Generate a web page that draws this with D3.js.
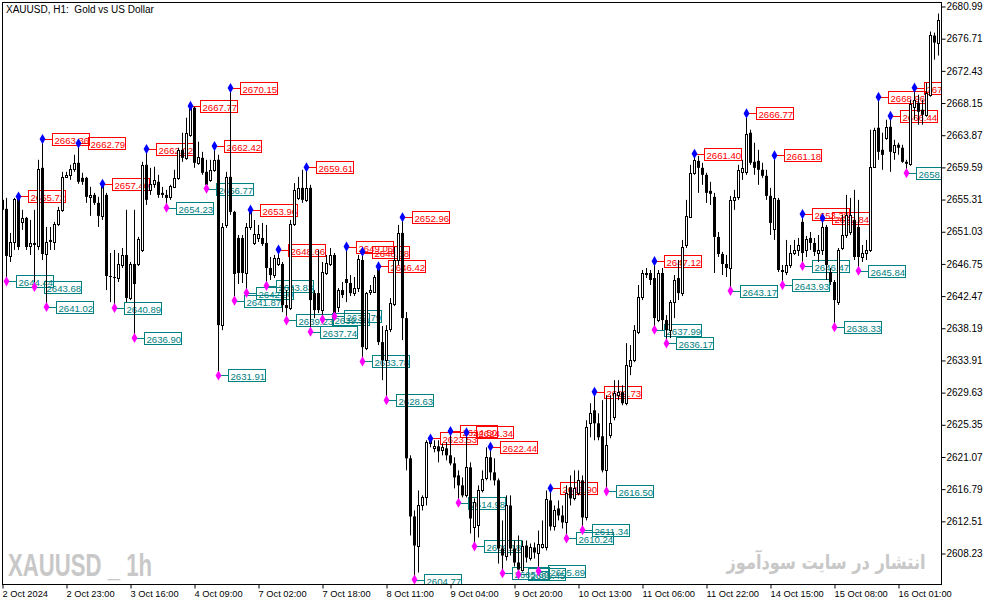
<!DOCTYPE html>
<html>
<head>
<meta charset="utf-8">
<script src="https://cdn.jsdelivr.net/npm/d3@7"></script>
<style>
  body { margin: 0; background: #fff; }
  svg { display: block; }
  text { font-family: "Liberation Sans", Arial, sans-serif; }
</style>
</head>
<body>
<script>
// XAUUSD H1 bars (index 0 = 2 Oct 07:00)
const opens = [
  2655.27,2654.07,2647.81,2649.67,2655.40,2652.34,2652.87,2649.14,2649.54,2649.14,
  2659.53,2648.07,2649.94,2649.67,2652.07,2653.94,2658.33,2658.60,2659.40,2660.20,
  2658.20,2658.20,2655.67,2655.93,2654.87,2653.14,2655.93,2645.14,2645.01,2644.87,
  2646.61,2647.94,2642.21,2646.74,2646.74,2648.61,2659.93,2656.60,2657.40,2657.67,
  2656.20,2655.93,2655.67,2657.00,2658.20,2661.93,2660.86,2663.93,2667.53,2660.20,
  2660.86,2659.00,2657.93,2659.27,2660.60,2638.61,2651.94,2658.33,2653.67,2650.20,
  2650.20,2645.54,2651.67,2649.54,2650.20,2650.20,2649.54,2646.21,2645.27,2646.74,
  2646.74,2641.28,2640.88,2652.07,2655.53,2656.87,2655.27,2656.87,2642.87,2642.87,
  2640.61,2645.54,2646.74,2647.94,2641.01,2643.27,2644.74,2644.21,2642.87,2643.54,
  2647.27,2635.55,2643.01,2643.01,2646.34,2636.35,2633.95,2638.08,2641.41,2647.27,
  2650.87,2639.54,2620.89,2613.16,2609.29,2614.62,2615.69,2622.89,2622.22,2622.49,
  2621.95,2622.22,2621.29,2620.22,2618.62,2617.29,2615.96,2619.69,2611.69,2611.96,
  2616.62,2618.22,2621.02,2619.02,2617.96,2608.89,2607.96,2614.62,2608.89,2607.03,
  2606.09,2609.29,2607.69,2609.03,2608.36,2609.16,2609.16,2615.29,2611.83,2614.22,
  2613.29,2612.36,2617.02,2615.56,2616.22,2617.96,2613.02,2625.55,2627.28,2625.55,
  2623.82,2619.29,2623.95,2626.35,2629.28,2629.68,2628.22,2633.15,2633.95,2637.68,
  2642.34,2645.54,2645.54,2644.87,2639.28,2645.54,2639.28,2637.94,2641.67,2644.87,
  2642.87,2649.27,2653.00,2658.87,2660.46,2659.53,2658.60,2656.47,2655.67,2650.34,
  2648.07,2646.74,2646.21,2655.27,2655.67,2659.00,2659.00,2664.20,2660.33,2660.46,
  2659.27,2658.47,2655.80,2651.40,2655.27,2645.94,2645.67,2646.61,2648.20,2648.61,
  2652.34,2648.61,2650.20,2649.54,2648.20,2648.61,2651.67,2645.67,2644.34,2641.67,
  2648.87,2650.60,2651.00,2652.60,2651.67,2647.67,2648.20,2648.61,2659.67,2664.86,
  2661.93,2663.53,2664.99,2661.66,2662.60,2662.20,2660.33,2660.07,2667.66,2668.19,
  2667.26,2666.59,2669.26,2677.12,2676.19
];
const highs = [
  2655.93,2655.53,2650.87,2655.53,2655.72,2653.94,2653.00,2652.60,2653.94,2660.60,
  2663.36,2651.67,2651.67,2652.34,2654.34,2659.00,2659.00,2659.93,2661.26,2662.79,
  2658.87,2658.33,2657.00,2656.20,2655.67,2657.40,2656.20,2648.20,2648.61,2648.20,
  2648.87,2653.94,2647.01,2653.94,2650.34,2660.33,2662.02,2659.53,2659.67,2658.60,
  2657.00,2656.60,2657.27,2659.27,2662.20,2664.20,2666.20,2667.77,2667.66,2663.00,
  2661.66,2660.60,2660.60,2662.42,2661.26,2652.20,2659.00,2670.15,2653.80,2650.60,
  2650.60,2652.20,2653.96,2652.60,2651.94,2652.20,2651.94,2647.67,2647.94,2648.66,
  2647.01,2643.27,2652.60,2657.50,2658.33,2659.27,2659.61,2657.27,2643.27,2648.61,
  2647.01,2647.94,2648.87,2648.20,2643.54,2644.34,2649.06,2645.27,2645.01,2647.94,
  2648.38,2643.01,2643.94,2645.27,2646.42,2638.48,2638.61,2642.21,2649.00,2651.94,
  2652.96,2640.34,2621.29,2613.96,2616.62,2615.96,2623.29,2623.53,2623.29,2623.29,
  2622.89,2623.02,2624.50,2621.02,2619.29,2618.35,2624.34,2620.35,2615.56,2617.29,
  2619.29,2622.35,2622.44,2620.89,2618.22,2612.63,2615.96,2615.96,2609.96,2610.63,
  2609.96,2609.96,2609.56,2609.69,2611.29,2612.63,2616.62,2616.90,2614.62,2615.29,
  2614.62,2617.29,2618.62,2619.29,2619.29,2618.62,2625.95,2628.22,2629.73,2626.88,
  2628.62,2629.28,2629.28,2631.28,2631.28,2630.61,2636.21,2635.95,2638.61,2643.94,
  2645.94,2646.21,2645.94,2647.12,2645.94,2646.21,2639.94,2641.94,2645.27,2647.27,
  2649.94,2655.27,2659.93,2661.40,2661.13,2660.20,2658.87,2657.67,2656.20,2651.00,
  2648.34,2647.94,2655.80,2656.60,2659.93,2660.60,2666.77,2664.60,2662.86,2661.93,
  2660.20,2659.27,2656.87,2661.18,2655.53,2646.61,2649.94,2649.27,2649.94,2650.20,
  2653.38,2650.47,2651.00,2650.20,2650.60,2652.84,2651.94,2646.21,2644.61,2648.87,
  2653.27,2655.93,2655.53,2656.60,2655.27,2649.27,2649.94,2664.60,2664.86,2668.96,
  2664.20,2665.93,2666.44,2663.26,2662.86,2662.60,2660.60,2668.59,2670.19,2669.26,
  2668.59,2670.86,2677.66,2677.52,2680.05
];
const lows = [
  2653.27,2644.44,2647.01,2648.61,2648.61,2651.27,2648.61,2647.94,2643.68,2648.61,
  2647.27,2641.02,2648.61,2648.61,2651.80,2653.67,2658.20,2657.93,2659.00,2657.40,
  2657.27,2654.87,2653.14,2654.60,2651.67,2652.60,2643.27,2641.67,2640.89,2644.34,
  2646.21,2641.67,2641.94,2636.90,2646.47,2648.34,2654.60,2655.93,2656.87,2655.53,
  2655.53,2654.23,2655.27,2656.87,2657.93,2660.33,2660.60,2663.66,2659.53,2659.93,
  2658.60,2656.77,2657.67,2659.00,2631.91,2637.94,2651.54,2653.27,2641.87,2644.07,
  2644.21,2642.90,2651.27,2649.27,2649.67,2649.14,2643.83,2644.61,2644.87,2646.47,
  2640.34,2639.23,2640.61,2651.80,2655.27,2654.87,2655.00,2637.74,2639.54,2640.21,
  2639.38,2645.27,2646.47,2639.79,2640.34,2642.21,2641.67,2642.47,2642.47,2643.01,
  2633.78,2635.28,2642.61,2642.87,2635.95,2631.28,2628.63,2637.68,2641.14,2646.61,
  2636.61,2619.29,2610.63,2604.77,2605.70,2613.96,2614.62,2622.35,2621.69,2620.35,
  2621.29,2620.62,2619.95,2616.89,2614.98,2615.69,2615.69,2610.89,2609.18,2610.36,
  2616.36,2617.96,2617.96,2617.29,2606.89,2605.60,2607.29,2607.96,2606.50,2605.45,
  2605.83,2607.03,2607.29,2607.56,2605.89,2608.89,2608.63,2611.29,2611.29,2612.63,
  2611.56,2610.24,2614.62,2615.29,2615.96,2611.34,2612.63,2623.69,2623.29,2623.29,
  2619.02,2616.50,2623.55,2625.95,2628.62,2627.95,2627.95,2631.95,2633.68,2637.41,
  2641.94,2644.87,2643.94,2637.99,2639.01,2637.94,2636.17,2636.88,2639.54,2641.94,
  2642.47,2648.87,2652.87,2658.60,2656.20,2657.27,2654.87,2654.60,2645.54,2647.67,
  2645.27,2645.01,2643.17,2653.94,2655.27,2657.93,2658.60,2659.93,2658.60,2657.27,
  2658.20,2655.27,2650.60,2649.94,2645.67,2643.93,2645.27,2646.21,2647.94,2647.81,
  2646.47,2647.67,2648.61,2647.81,2647.01,2647.94,2644.61,2643.94,2638.33,2641.28,
  2648.61,2650.20,2650.60,2647.27,2645.84,2647.01,2647.27,2648.34,2659.53,2660.60,
  2659.27,2663.26,2659.00,2660.60,2661.26,2660.20,2658.83,2659.80,2665.93,2665.26,
  2665.26,2666.33,2668.99,2673.92,2674.46
];
const closes = [
  2653.94,2647.81,2649.67,2655.40,2649.00,2652.87,2649.00,2649.54,2649.27,2659.40,
  2648.07,2649.67,2649.67,2652.07,2653.94,2658.33,2658.60,2659.40,2660.20,2657.67,
  2657.67,2655.67,2655.93,2654.87,2653.14,2657.13,2645.14,2645.01,2644.87,2646.74,
  2647.94,2642.21,2646.74,2644.07,2650.07,2659.93,2655.27,2657.40,2657.93,2655.93,
  2655.93,2655.53,2657.13,2658.20,2661.93,2660.86,2664.20,2667.53,2660.20,2661.00,
  2658.87,2657.27,2659.27,2660.60,2638.61,2651.67,2658.33,2653.67,2645.41,2645.54,
  2645.54,2651.67,2653.80,2650.74,2650.74,2649.40,2646.21,2645.27,2647.54,2647.54,
  2641.28,2640.88,2652.07,2656.60,2656.87,2655.27,2656.87,2641.94,2640.61,2640.61,
  2645.67,2646.87,2647.94,2640.21,2643.27,2642.61,2644.21,2642.87,2643.54,2647.41,
  2635.68,2642.87,2643.27,2645.01,2636.35,2633.95,2637.94,2641.54,2647.27,2650.87,
  2639.54,2620.89,2613.16,2609.29,2614.62,2615.69,2623.02,2623.29,2622.49,2621.82,
  2622.35,2621.29,2620.22,2618.35,2617.29,2615.96,2619.69,2612.89,2615.02,2616.62,
  2618.09,2621.02,2619.02,2617.96,2608.89,2607.96,2614.62,2608.89,2607.03,2606.09,
  2609.29,2607.69,2609.03,2608.36,2609.43,2609.56,2615.42,2611.83,2613.96,2613.29,
  2612.36,2616.22,2615.56,2616.89,2617.96,2613.02,2625.02,2626.88,2625.55,2623.69,
  2619.29,2622.62,2625.55,2629.55,2629.68,2628.22,2633.28,2633.95,2637.94,2642.34,
  2645.54,2645.27,2644.61,2639.54,2645.54,2639.28,2637.94,2641.67,2644.61,2642.87,
  2649.00,2653.14,2658.87,2660.60,2659.53,2658.60,2656.20,2656.07,2650.34,2648.07,
  2646.74,2646.21,2655.27,2655.67,2659.27,2659.53,2664.06,2660.20,2659.53,2659.27,
  2658.47,2655.80,2652.20,2655.53,2645.94,2645.67,2646.61,2648.20,2648.61,2649.27,
  2648.20,2650.07,2649.54,2648.34,2648.61,2651.67,2646.61,2644.34,2641.94,2648.61,
  2650.60,2653.27,2653.27,2647.67,2647.67,2648.20,2648.61,2659.67,2664.60,2661.66,
  2661.26,2664.99,2661.66,2662.60,2662.20,2660.33,2660.07,2668.06,2668.59,2666.99,
  2666.59,2669.53,2677.26,2676.19,2679.26
];

// swing points marked on the chart: [bar index, price]
const swingHighs = [
  [4,2655.72],[10,2663.36],[19,2662.79],[25,2657.40],[36,2662.02],[47,2667.77],
  [53,2662.42],[57,2670.15],[62,2653.96],[69,2648.66],[76,2659.61],[86,2649.06],
  [90,2648.38],[94,2646.42],[100,2652.96],[107,2623.53],[112,2624.50],[116,2624.34],
  [122,2622.44],[137,2616.90],[148,2629.73],[163,2647.12],[173,2661.40],[186,2666.77],
  [193,2661.18],[200,2653.38],[205,2652.84],[219,2668.96],[222,2666.44],[228,2670.19]
];
const swingLows = [
  [1,2644.44],[8,2643.68],[11,2641.02],[28,2640.89],[33,2636.90],[41,2654.23],
  [51,2656.77],[54,2631.91],[58,2641.87],[61,2642.90],[66,2643.83],[71,2639.23],
  [77,2637.74],[80,2639.38],[83,2639.79],[90,2633.78],[96,2628.63],[103,2604.77],
  [114,2614.98],[118,2609.18],[125,2605.60],[129,2605.45],[134,2605.89],[141,2610.24],
  [145,2611.34],[151,2616.50],[163,2637.99],[166,2636.17],[182,2643.17],[195,2643.93],
  [200,2646.47],[208,2638.33],[214,2645.84],[226,2658.83]
];

const priceTicks = [2680.99,2676.71,2672.43,2668.15,2663.87,2659.59,2655.31,2651.03,2646.75,
  2642.47,2638.19,2633.91,2629.63,2625.35,2621.07,2616.79,2612.51,2608.23];
const timeTickBars = [0,16,32,48,64,80,96,112,128,144,160,176,192,208,224];
const timeLabels = ["2 Oct 2024","2 Oct 23:00","3 Oct 16:00","4 Oct 09:00","7 Oct 02:00",
  "7 Oct 18:00","8 Oct 11:00","9 Oct 04:00","9 Oct 20:00","10 Oct 13:00","11 Oct 06:00",
  "11 Oct 22:00","14 Oct 15:00","15 Oct 08:00","16 Oct 01:00"];

const W = 994, H = 605;
const plot = { left: 2.5, right: 941.5, top: 2.5, bottom: 584.5 };

const bars = opens.map((o, i) => ({ i, o, h: highs[i], l: lows[i], c: closes[i] }));

const x = d3.scaleLinear().domain([0, 234]).range([2.5, 938.5]);
const y = d3.scaleLinear().domain([2608.23, 2680.99]).range([553.5, 6.5]);

const svg = d3.select("body").append("svg")
  .attr("width", W).attr("height", H);

svg.append("rect").attr("width", W).attr("height", H).attr("fill", "#fff");

svg.append("clipPath").attr("id", "plotclip")
  .append("rect")
  .attr("x", plot.left).attr("y", plot.top)
  .attr("width", plot.right - plot.left).attr("height", plot.bottom - plot.top);

// watermarks
svg.append("text")
  .attr("x", 8).attr("y", 576)
  .attr("font-size", 32).attr("font-weight", "bold")
  .attr("fill", "#c8c8c8")
  .attr("textLength", 144).attr("lengthAdjust", "spacingAndGlyphs")
  .text("XAUUSD _ 1h");

svg.append("text")
  .attr("x", 826).attr("y", 569)
  .attr("text-anchor", "middle")
  .style("font-family", "'DejaVu Sans', sans-serif")
  .attr("font-size", 20).attr("font-weight", "bold")
  .attr("fill", "#c8c8c8")
  .attr("textLength", 199).attr("lengthAdjust", "spacingAndGlyphs")
  .text("انتشار در سایت سودآموز");

const g = svg.append("g").attr("clip-path", "url(#plotclip)");

// price labels next to the swing points (drawn under the bars)
function drawLabels(points, color) {
  const lab = g.append("g").selectAll("g").data(points).enter().append("g")
    .attr("transform", d => `translate(${x(d[0])},${Math.round(y(d[1]))})`);
  lab.append("line")
    .attr("x1", 0).attr("x2", 10).attr("y1", 0.5).attr("y2", 0.5)
    .attr("stroke", color);
  lab.append("rect")
    .attr("x", 10).attr("y", -5.5).attr("width", 37).attr("height", 12)
    .attr("fill", "none").attr("stroke", color);
  lab.append("text")
    .attr("x", 12).attr("y", 4.5)
    .attr("font-size", 9.6).attr("fill", color)
    .text(d => d[1].toFixed(2));
}
drawLabels(swingHighs, "#ff0000");
drawLabels(swingLows, "#008080");

// candles
const candle = g.append("g").selectAll("g").data(bars).enter().append("g");
candle.append("line")
  .attr("x1", d => x(d.i)).attr("x2", d => x(d.i))
  .attr("y1", d => y(d.h)).attr("y2", d => y(d.l))
  .attr("stroke", "#000");
candle.filter(d => d.c < d.o).append("rect")
  .attr("x", d => x(d.i) - 1.5).attr("width", 3)
  .attr("y", d => y(d.o))
  .attr("height", d => Math.max(1, y(d.c) - y(d.o)))
  .attr("fill", "#000");
candle.filter(d => d.c >= d.o).append("rect")
  .attr("x", d => x(d.i) - 1).attr("width", 2)
  .attr("y", d => Math.round(y(d.c)) + 0.5)
  .attr("height", d => Math.max(1, Math.round(y(d.o)) - Math.round(y(d.c))))
  .attr("fill", "#fff").attr("stroke", "#000");

// swing markers
const diamond = d3.symbol(d3.symbolDiamond, 30);
g.append("g").selectAll("path").data(swingHighs).enter().append("path")
  .attr("d", diamond)
  .attr("transform", d => `translate(${x(d[0])},${y(d[1])})`)
  .attr("fill", "#0000ff");
g.append("g").selectAll("path").data(swingLows).enter().append("path")
  .attr("d", diamond)
  .attr("transform", d => `translate(${x(d[0])},${y(d[1])})`)
  .attr("fill", "#ff00ff");

// frame
svg.append("rect")
  .attr("x", plot.left).attr("y", plot.top)
  .attr("width", plot.right - plot.left).attr("height", plot.bottom - plot.top)
  .attr("fill", "none").attr("stroke", "#000");

// price axis
const yAxis = svg.append("g")
  .attr("transform", `translate(${plot.right},0)`)
  .call(d3.axisRight(y).tickValues(priceTicks).tickFormat(d3.format(".2f")).tickSize(4).tickPadding(1));
yAxis.select(".domain").remove();
yAxis.selectAll("text").attr("font-size", 10).attr("font-family", "'Liberation Sans', Arial, sans-serif");
yAxis.selectAll("line").attr("stroke", "#000");

// time axis
const xAxis = svg.append("g")
  .attr("transform", `translate(0,${plot.bottom})`)
  .call(d3.axisBottom(x).tickValues(timeTickBars).tickFormat((d, i) => timeLabels[i]).tickSize(4));
xAxis.select(".domain").remove();
xAxis.selectAll("line").attr("stroke", "#000");
xAxis.selectAll("text")
  .attr("text-anchor", "start")
  .attr("x", -0.5).attr("y", 12.5).attr("dy", null)
  .attr("font-size", 9.3).attr("font-family", "'Liberation Sans', Arial, sans-serif");

// title
svg.append("text")
  .attr("x", 6).attr("y", 13)
  .attr("font-size", 10)
  .style("white-space", "pre")
  .text("XAUUSD, H1:  Gold vs US Dollar");
</script>
</body>
</html>
